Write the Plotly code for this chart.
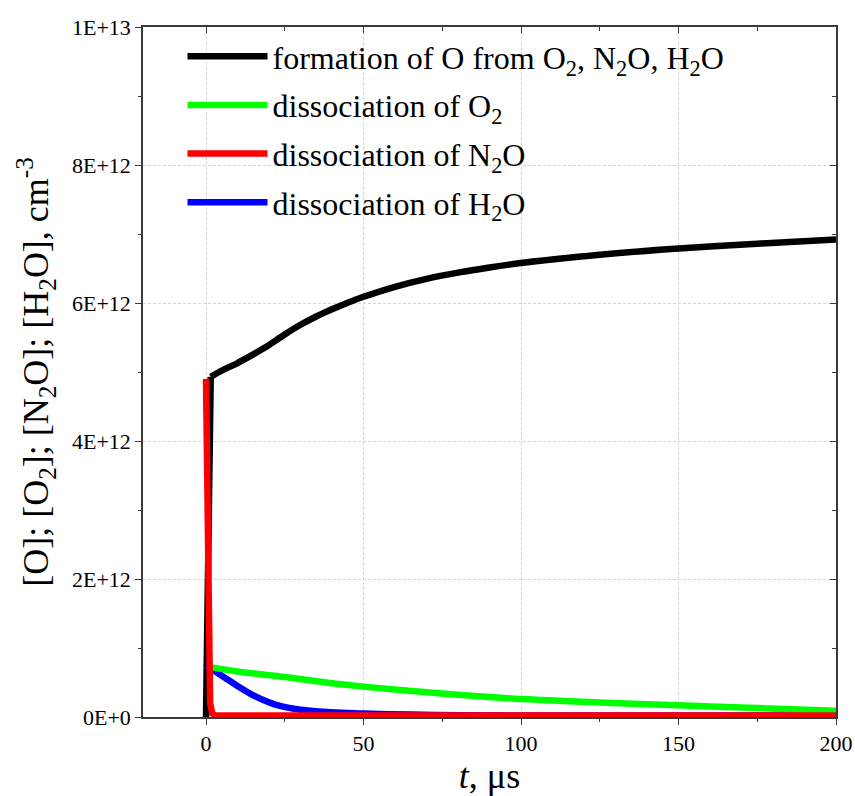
import plotly.graph_objects as go

# ---- data ----
t_formation = [0, 1.5, 5, 10, 15, 20, 25, 30, 35, 40, 45, 50, 60, 70, 80, 90, 100, 125, 150, 175, 200]
y_formation = [0, 4.93e12, 5.02e12, 5.13e12, 5.255e12, 5.39e12, 5.545e12, 5.685e12, 5.805e12, 5.91e12,
               6.005e12, 6.09e12, 6.235e12, 6.35e12, 6.44e12, 6.515e12, 6.58e12, 6.70e12, 6.79e12, 6.86e12, 6.92e12]

t_o2 = [0.5, 10, 25, 40, 50, 75, 100, 125, 150, 175, 200]
y_o2 = [0.73e12, 0.66e12, 0.58e12, 0.49e12, 0.44e12, 0.34e12, 0.26e12, 0.21e12, 0.17e12, 0.13e12, 0.09e12]

t_n2o = [0, 1.3, 2.0, 3.0, 200]
y_n2o = [4.9e12, 0.2e12, 0.05e12, 0.02e12, 0.02e12]

t_h2o = [0, 3, 6, 10, 14, 18, 22, 26, 30, 36, 43, 50, 65, 80, 100, 200]
y_h2o = [0.75e12, 0.66e12, 0.57e12, 0.45e12, 0.34e12, 0.25e12, 0.18e12, 0.135e12, 0.105e12,
         0.08e12, 0.06e12, 0.05e12, 0.035e12, 0.025e12, 0.02e12, 0.02e12]

names = ["formation of O from O<sub>2</sub>, N<sub>2</sub>O, H<sub>2</sub>O",
         "dissociation of O<sub>2</sub>",
         "dissociation of N<sub>2</sub>O",
         "dissociation of H<sub>2</sub>O"]

x_tickvals = [0, 50, 100, 150, 200]
x_ticktext = ["0", "50", "100", "150", "200"]
x_minorvals = [25, 75, 125, 175]
y_tickvals = [0, 2e12, 4e12, 6e12, 8e12, 1e13]
y_ticktext = ["0E+0", "2E+12", "4E+12", "6E+12", "8E+12", "1E+13"]
y_minorvals = [1e12, 3e12, 5e12, 7e12, 9e12]

FONT = "'Liberation Serif', 'Times New Roman', Times, serif"
AX = "#3a3a3a"
GRID = "#d6d6d6"

fig = go.Figure()
lw = 6.5
# draw order: black, blue, green, red ; legend order via legendrank
# black: the initial vertical jump drawn straight, the rest smoothed
fig.add_trace(go.Scatter(x=t_formation[:2], y=y_formation[:2], mode="lines", name=names[0],
                         line=dict(color="#000000", width=lw), showlegend=False,
                         legendgroup="a", hoverinfo="skip"))
fig.add_trace(go.Scatter(x=t_formation[1:], y=y_formation[1:], mode="lines", name=names[0],
                         line=dict(color="#000000", width=lw, shape="spline", smoothing=0.8),
                         legendrank=1, legendgroup="a"))
fig.add_trace(go.Scatter(x=t_h2o, y=y_h2o, mode="lines", name=names[3],
                         line=dict(color="#0000ff", width=lw, shape="spline", smoothing=0.8),
                         legendrank=4, legendgroup="d"))
fig.add_trace(go.Scatter(x=t_o2, y=y_o2, mode="lines", name=names[1],
                         line=dict(color="#00ff00", width=lw, shape="spline", smoothing=0.8),
                         legendrank=2, legendgroup="b"))
fig.add_trace(go.Scatter(x=t_n2o, y=y_n2o, mode="lines", name=names[2],
                         line=dict(color="#ff0000", width=lw), legendrank=3, legendgroup="c"))
# dummy trace for the mirrored (top/right) axes
fig.add_trace(go.Scatter(x=[None], y=[None], xaxis="x2", yaxis="y2",
                         showlegend=False, hoverinfo="skip"))

xr = [-20, 200]
yr = [0, 1e13]

fig.update_layout(
    width=855, height=796,
    margin=dict(l=143, r=19, t=27, b=79),
    paper_bgcolor="white", plot_bgcolor="white",
    font=dict(family=FONT, size=22, color="black"),
    showlegend=True,
    legend=dict(x=0.057, y=0.997, xanchor="left", yanchor="top",
                font=dict(family=FONT, size=32, color="black"),
                bgcolor="rgba(0,0,0,0)", itemwidth=80, tracegroupgap=4),
    xaxis=dict(range=xr, tickmode="array", tickvals=x_tickvals, ticktext=x_ticktext,
               automargin=False,
               ticks="outside", ticklen=6, tickwidth=1.3, tickcolor=AX,
               showline=True, linecolor=AX, linewidth=1.5, zeroline=False,
               showgrid=True, gridcolor=GRID, griddash="3px,2px", gridwidth=1,
               minor=dict(tickmode="array", tickvals=x_minorvals, ticks="outside",
                          ticklen=3, tickwidth=1.2, tickcolor=AX, showgrid=False),
               tickfont=dict(family=FONT, size=22, color="black"),
               title=dict(text="<i>t</i>, μs", font=dict(family=FONT, size=36, color="black"),
                          standoff=16)),
    yaxis=dict(range=yr, tickmode="array", tickvals=y_tickvals, ticktext=y_ticktext,
               automargin=False,
               ticks="outside", ticklen=6, tickwidth=1.3, tickcolor=AX,
               showline=True, linecolor=AX, linewidth=1.5, zeroline=False,
               showgrid=True, gridcolor=GRID, griddash="3px,2px", gridwidth=1,
               minor=dict(tickmode="array", tickvals=y_minorvals, ticks="outside",
                          ticklen=3, tickwidth=1.2, tickcolor=AX, showgrid=False),
               tickfont=dict(family=FONT, size=22, color="black"),
               title=dict(text="[O]; [O<sub>2</sub>]; [N<sub>2</sub>O]; [H<sub>2</sub>O], cm<sup>-3</sup>",
                          font=dict(family=FONT, size=36, color="black"), standoff=12)),
    xaxis2=dict(range=xr, overlaying="x", side="top", anchor="y", automargin=False,
                tickmode="array", tickvals=x_tickvals, showticklabels=False,
                ticks="inside", ticklen=6, tickwidth=1.3, tickcolor=AX,
                showline=True, linecolor=AX, linewidth=1.5, zeroline=False, showgrid=False,
                minor=dict(tickmode="array", tickvals=x_minorvals, ticks="inside",
                           ticklen=4, tickwidth=1.2, tickcolor=AX, showgrid=False)),
    yaxis2=dict(range=yr, overlaying="y", side="right", anchor="x", automargin=False,
                tickmode="array", tickvals=y_tickvals, showticklabels=False,
                ticks="inside", ticklen=6, tickwidth=1.3, tickcolor=AX,
                showline=True, linecolor=AX, linewidth=1.5, zeroline=False, showgrid=False,
                minor=dict(tickmode="array", tickvals=y_minorvals, ticks="inside",
                           ticklen=4, tickwidth=1.2, tickcolor=AX, showgrid=False)),
)

fig.write_html("out.html")
